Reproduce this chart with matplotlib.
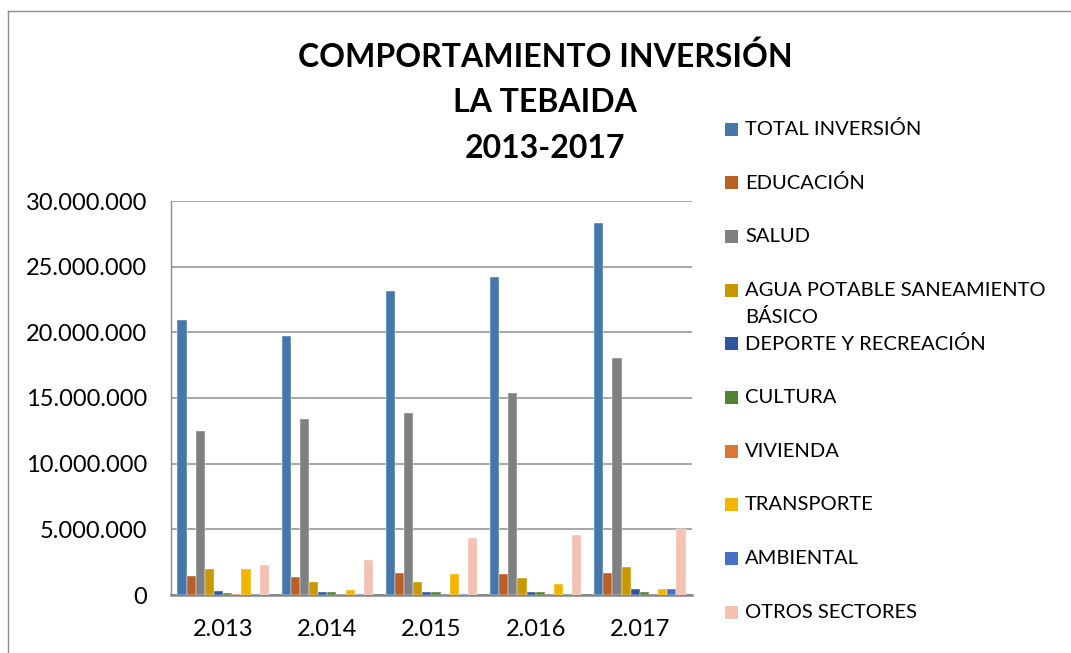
import matplotlib
matplotlib.use("Agg")
import matplotlib.pyplot as plt
import numpy as np
from matplotlib.lines import Line2D
from matplotlib.patches import Rectangle
from matplotlib.ticker import FuncFormatter

plt.rcParams["font.family"] = ["Lato", "DejaVu Sans"]

years = ["2.013", "2.014", "2.015", "2.016", "2.017"]

series_names = [
    "TOTAL INVERSIÓN",
    "EDUCACIÓN",
    "SALUD",
    "AGUA POTABLE SANEAMIENTO\nBÁSICO",
    "DEPORTE Y RECREACIÓN",
    "CULTURA",
    "VIVIENDA",
    "TRANSPORTE",
    "AMBIENTAL",
    "OTROS SECTORES",
]

total_inversion = [20_940_000, 19_700_000, 23_150_000, 24_200_000, 28_300_000]
educacion = [1_480_000, 1_380_000, 1_670_000, 1_600_000, 1_680_000]
salud = [12_450_000, 13_400_000, 13_860_000, 15_400_000, 18_050_000]
agua_potable = [2_000_000, 1_000_000, 980_000, 1_300_000, 2_100_000]
deporte = [300_000, 250_000, 250_000, 250_000, 480_000]
cultura = [150_000, 250_000, 250_000, 250_000, 250_000]
vivienda = [50_000, 0, 0, 0, 0]
transporte = [2_000_000, 350_000, 1_600_000, 860_000, 450_000]
ambiental = [0, 50_000, 50_000, 0, 450_000]
otros_sectores = [2_300_000, 2_700_000, 4_350_000, 4_600_000, 5_000_000]

values = [total_inversion, educacion, salud, agua_potable, deporte,
          cultura, vivienda, transporte, ambiental, otros_sectores]

colors = ["#4677A8", "#BA5F25", "#808080", "#C79800", "#30559A",
          "#538235", "#DF7633", "#F1B500", "#4472C4", "#F4C2B1"]

W, H = 1071, 653
fig = plt.figure(figsize=(W / 100, H / 100), dpi=100)

# outer chart border (top and left edges)
fig.add_artist(Line2D([8 / W, 8 / W], [0, 1 - 11 / H], transform=fig.transFigure,
                      color="#8C8C8C", lw=1.0))
fig.add_artist(Line2D([8 / W, 1], [1 - 11 / H, 1 - 11 / H], transform=fig.transFigure,
                      color="#8C8C8C", lw=1.0))

ax = fig.add_axes([171 / W, 58 / H, (692 - 171) / W, (595 - 201) / H])

x = np.arange(len(years))
n = len(series_names)
bw = 0.0878
offsets = (np.arange(n) - (n - 1) / 2) * bw
for i in range(n):
    ax.bar(x + offsets[i], values[i], width=bw, color=colors[i],
           edgecolor="white", linewidth=0.3, zorder=3)

ax.set_xlim(-0.5, len(years) - 0.5)
ax.set_ylim(0, 30_000_000)
ax.set_yticks(np.arange(0, 30_000_001, 5_000_000))
ax.yaxis.set_major_formatter(FuncFormatter(lambda v, p: f"{int(v):,}".replace(",", ".")))
ax.set_xticks(x)
ax.set_xticklabels(years)
ax.tick_params(axis="y", length=0, pad=17, labelsize=17, colors="black")
ax.tick_params(axis="x", length=0, pad=17, labelsize=17, colors="black")
ax.grid(axis="y", color="#A6A6A6", lw=1.4, zorder=0)
ax.set_axisbelow(True)
for s in ["top", "right"]:
    ax.spines[s].set_visible(False)
ax.spines["left"].set_color("#8C8C8C")
ax.spines["left"].set_linewidth(1.0)
ax.spines["bottom"].set_color("#868686")
ax.spines["bottom"].set_linewidth(1.8)

# title
for txt, yy in [("COMPORTAMIENTO INVERSIÓN", 57), ("LA TEBAIDA", 102), ("2013-2017", 148)]:
    fig.text(545 / W, 1 - yy / H, txt, ha="center", va="center",
             fontsize=23, fontweight="bold", color="black")

# legend
y0, dy = 129, 53.7
for i, name in enumerate(series_names):
    yc = y0 + i * dy
    fig.add_artist(Rectangle((725 / W, 1 - (yc + 6.5) / H), 13 / W, 13 / H,
                             transform=fig.transFigure, facecolor=colors[i],
                             edgecolor="none"))
    if "\n" in name:
        fig.text(745 / W, 1 - (yc - 8) / H, name, ha="left", va="top",
                 fontsize=14.5, linespacing=1.6, color="black")
    else:
        fig.text(745 / W, 1 - yc / H, name, ha="left", va="center",
                 fontsize=14.5, color="black")

fig.savefig("out.png", dpi=100, facecolor="white")
